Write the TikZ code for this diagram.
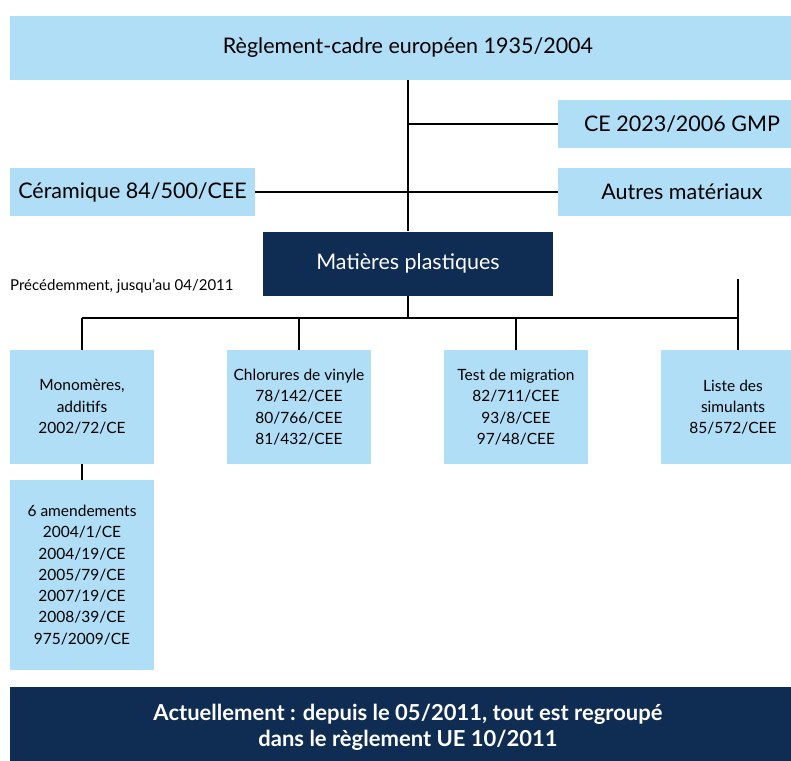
\documentclass[tikz,border=0pt]{standalone}
\usepackage{fontspec}
\setmainfont{Lato}
\definecolor{lightb}{HTML}{B0DEF6}
\definecolor{navy}{HTML}{0F2D52}
\tikzset{
  lbox/.style={fill=lightb, draw=none, inner sep=0pt, align=center, text=black},
  dbox/.style={fill=navy, draw=none, inner sep=0pt, align=center, text=white},
  big/.style={font=\fontsize{21.5}{24}\selectfont},
  small/.style={font=\fontsize{15.5}{21.3}\selectfont},
  conn/.style={draw=black, line width=2pt},
}
\begin{document}
\begin{tikzpicture}[x=1pt,y=-1pt]
\useasboundingbox (0,0) rectangle (791,760);
\begin{scope}
\clip (0,0) rectangle (791,760);
\fill[white] (0,0) rectangle (791,760);
% top level
\node[lbox, big, minimum width=796pt, minimum height=64pt] (top) at (408,48) {Règlement-cadre européen 1935/2004};
\node[lbox, big, minimum width=248pt, minimum height=48pt] (gmp) at (682,124) {CE 2023/2006 GMP};
\node[lbox, big, minimum width=245pt, minimum height=48pt] (cer) at (132.5,192) {Céramique 84/500/CEE};
\node[lbox, big, minimum width=248pt, minimum height=48pt] (autres) at (682,192) {Autres matériaux};
\node[dbox, big, minimum width=290pt, minimum height=64pt] (mp) at (408,263.5) {Matières plastiques};
\node[anchor=west, inner sep=0pt, font=\fontsize{15}{16}\selectfont] (prec) at (10,286) {Précédemment, jusqu'au 04/2011};
% second level
\node[lbox, small, minimum width=144pt, minimum height=114pt] (mono) at (82,407) {Monomères,\\additifs\\2002/72/CE};
\node[lbox, small, minimum width=144pt, minimum height=114pt] (chlo) at (299,407) {Chlorures de vinyle\\78/142/CEE\\80/766/CEE\\81/432/CEE};
\node[lbox, small, minimum width=144pt, minimum height=114pt] (test) at (516,407) {Test de migration\\82/711/CEE\\93/8/CEE\\97/48/CEE};
\node[lbox, small, minimum width=144pt, minimum height=114pt] (liste) at (733,407) {Liste des\\simulants\\85/572/CEE};
\node[lbox, small, minimum width=144pt, minimum height=190pt] (amend) at (82,575) {6 amendements\\2004/1/CE\\2004/19/CE\\2005/79/CE\\2007/19/CE\\2008/39/CE\\975/2009/CE};
% banner
\node[dbox, font=\bfseries\fontsize{22}{26}\selectfont, minimum width=796pt, minimum height=80pt] (banner) at (408,727) {Actuellement : depuis le 05/2011, tout est regroupé\\dans le règlement UE 10/2011};
% connectors
\coordinate (j1) at (408,124);
\coordinate (j2) at (408,192);
\coordinate (bar) at (408,318);
\coordinate (bl) at (82,318);
\coordinate (br) at (738,318);
\coordinate (rtop) at (738,279);
\draw[conn] (top.south -| mp.north) -- (mp.north);
\draw[conn] (j1) -- (gmp.west |- j1);
\draw[conn] (cer.east |- j2) -- (autres.west |- j2);
\draw[conn] (mp.south) -- (bar);
\draw[conn] (bl) -- (br);
\draw[conn] (rtop) -- (738,350);
\draw[conn] (bl) -- (mono.north);
\draw[conn] (299,318) -- (chlo.north);
\draw[conn] (516,318) -- (test.north);
\draw[conn] (mono.south) -- (amend.north);
\end{scope}
\end{tikzpicture}
\end{document}
